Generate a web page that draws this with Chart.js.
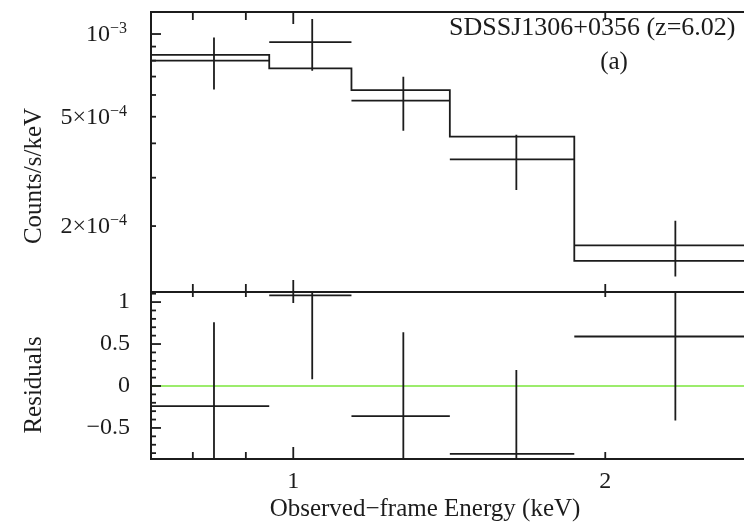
<!DOCTYPE html>
<html>
<head>
<meta charset="utf-8">
<script src="https://cdn.jsdelivr.net/npm/chart.js@4.4.1/dist/chart.umd.min.js"></script>
<style>
  html, body { margin: 0; padding: 0; background: #fff; }
  #wrap { position: relative; width: 744px; height: 526px; overflow: hidden; }
  canvas { position: absolute; left: 0; top: 0; }
</style>
</head>
<body>
<div id="wrap">
  <canvas id="spec" width="744" height="526"></canvas>
  <canvas id="resid" width="744" height="526"></canvas>
</div>
<script>
// energy bins (keV)
const binLo = [0.729, 0.948, 1.138, 1.416, 1.867];
const binHi = [0.948, 1.138, 1.416, 1.867, 2.807];
// counts/s/keV
const counts = [8.0e-4, 9.35e-4, 5.72e-4, 3.50e-4, 1.70e-4];
const countErr = [1.72e-4, 2.0e-4, 1.275e-4, 0.795e-4, 0.39e-4];
const model = [8.39e-4, 7.5e-4, 6.25e-4, 4.23e-4, 1.495e-4];
// residuals (sigma)
const resid = [-0.24, 1.08, -0.36, -0.81, 0.59];
const residErr = [1, 1, 1, 1, 1];

const xRange = [0.729, 2.722];
const specRange = [1.151e-4, 1.2026e-3];
const residRange = [-0.87, 1.12];

const xMajor = [1];
const xMinor = [0.8, 0.9, 2];
const xTickVals = [1, 2];
const xTickText = ["1", "2"];
const specMajor = [1e-3];
const specMinor = [9e-4, 8e-4, 7e-4, 6e-4, 5e-4, 4e-4, 3e-4, 2e-4];
const specLabelVals = [1e-3, 5e-4, 2e-4];
const specLabelBase = ["10", "5\u00d710", "2\u00d710"];
const specLabelExp = ["\u22123", "\u22124", "\u22124"];
const residMajor = [-0.5, 0, 0.5, 1];
const residMinor = [-0.8, -0.7, -0.6, -0.4, -0.3, -0.2, -0.1, 0.1, 0.2, 0.3, 0.4, 0.6, 0.7, 0.8, 0.9, 1.1];
const residTickVals = [-0.5, 0, 0.5, 1];
const residTickText = ["\u22120.5", "0", "0.5", "1"];

const serif = "'Liberation Serif', 'Times New Roman', serif";
const ink = "#1c1c1c";

// horizontal bin bar + vertical error bar for every bin, gaps between
function errorBarPoints(vals, errs) {
  const pts = [];
  vals.forEach((v, i) => {
    const mid = (binLo[i] + binHi[i]) / 2;
    pts.push({ x: binLo[i], y: v }, { x: binHi[i], y: v }, { x: binHi[i], y: null });
    pts.push({ x: mid, y: v - errs[i] }, { x: mid, y: v + errs[i] }, { x: mid, y: null });
  });
  return pts;
}

function drawFrame(chart, xTicks, yTicks) {
  const { ctx, chartArea: a, scales } = chart;
  ctx.save();
  ctx.strokeStyle = ink;
  ctx.lineWidth = 1.8;
  const tick = (vals, len, axis) => {
    vals.forEach(v => {
      if (axis === "x") {
        const px = scales.x.getPixelForValue(v);
        ctx.beginPath();
        ctx.moveTo(px, a.top); ctx.lineTo(px, a.top + len[0]);
        ctx.moveTo(px, a.bottom); ctx.lineTo(px, a.bottom - len[1]);
        ctx.stroke();
      } else {
        const py = scales.y.getPixelForValue(v);
        ctx.beginPath();
        ctx.moveTo(a.left, py); ctx.lineTo(a.left + len, py);
        ctx.stroke();
      }
    });
  };
  tick(xTicks.major, xTicks.majorLen, "x");
  tick(xTicks.minor, xTicks.minorLen, "x");
  tick(yTicks.major, yTicks.majorLen, "y");
  tick(yTicks.minor, yTicks.minorLen, "y");
  ctx.lineWidth = 2;
  ctx.strokeRect(a.left, a.top, a.right - a.left + 4, a.bottom - a.top);
  ctx.restore();
}

function rotatedText(ctx, text, x, y, size) {
  ctx.save();
  ctx.translate(x, y);
  ctx.rotate(-Math.PI / 2);
  ctx.font = `${size}px ${serif}`;
  ctx.fillStyle = ink;
  ctx.textAlign = "center";
  ctx.textBaseline = "middle";
  ctx.fillText(text, 0, 0);
  ctx.restore();
}

const specDecor = {
  id: "specDecor",
  afterDatasetsDraw(chart) {
    drawFrame(chart,
      { major: xMajor, minor: xMinor, majorLen: [12, 12], minorLen: [8, 8] },
      { major: specMajor, minor: specMinor, majorLen: 10, minorLen: 5 });
    const ctx = chart.ctx;
    const y = chart.scales.y;
    ctx.save();
    ctx.fillStyle = ink;
    ctx.textBaseline = "middle";
    ctx.textAlign = "left";
    const size = 24, expSize = 16;
    specLabelVals.forEach((v, i) => {
      const py = y.getPixelForValue(v);
      ctx.font = `${size}px ${serif}`;
      const bw = ctx.measureText(specLabelBase[i]).width;
      ctx.font = `${expSize}px ${serif}`;
      const ew = ctx.measureText(specLabelExp[i]).width;
      const right = 127;
      ctx.font = `${size}px ${serif}`;
      ctx.fillText(specLabelBase[i], right - ew - bw, py + 1);
      ctx.font = `${expSize}px ${serif}`;
      ctx.fillText(specLabelExp[i], right - ew, py - 5);
    });
    ctx.font = `26px ${serif}`;
    ctx.textAlign = "left";
    ctx.fillText("SDSSJ1306+0356 (z=6.02)", 449, 28);
    ctx.font = `25px ${serif}`;
    ctx.textAlign = "center";
    ctx.fillText("(a)", 614, 62);
    ctx.restore();
    rotatedText(ctx, "Counts/s/keV", 34, 176, 25);
  }
};

const residDecor = {
  id: "residDecor",
  afterDatasetsDraw(chart) {
    drawFrame(chart,
      { major: xMajor, minor: xMinor, majorLen: [11, 12], minorLen: [5, 7] },
      { major: residMajor, minor: residMinor, majorLen: 10, minorLen: 5 });
    const ctx = chart.ctx;
    rotatedText(ctx, "Residuals", 34, 385, 25);
    ctx.save();
    ctx.fillStyle = ink;
    ctx.font = `25px ${serif}`;
    ctx.textAlign = "center";
    ctx.textBaseline = "alphabetic";
    ctx.fillText("Observed\u2212frame Energy (keV)", 425, 516);
    ctx.restore();
  }
};

const fixWidth = s => { s.width = 151; };

new Chart(document.getElementById("spec"), {
  type: "line",
  data: {
    datasets: [
      {
        data: errorBarPoints(counts, countErr),
        borderColor: ink, borderWidth: 1.8, pointRadius: 0, spanGaps: false
      },
      {
        data: binLo.map((e, i) => ({ x: e, y: model[i] }))
          .concat([{ x: binHi[binHi.length - 1], y: model[model.length - 1] }]),
        borderColor: ink, borderWidth: 1.8, pointRadius: 0, stepped: true
      }
    ]
  },
  options: {
    responsive: false,
    animation: false,
    layout: { padding: { top: 12, bottom: 526 - 292, left: 0, right: 0 } },
    plugins: { legend: { display: false }, tooltip: { enabled: false } },
    scales: {
      x: { type: "logarithmic", min: xRange[0], max: xRange[1], bounds: "data", display: false },
      y: {
        type: "logarithmic", min: specRange[0], max: specRange[1], bounds: "data",
        grid: { display: false, drawTicks: false }, border: { display: false },
        ticks: { display: false },
        afterFit: fixWidth
      }
    }
  },
  plugins: [specDecor]
});

new Chart(document.getElementById("resid"), {
  type: "line",
  data: {
    datasets: [
      {
        data: errorBarPoints(resid, residErr),
        borderColor: ink, borderWidth: 1.8, pointRadius: 0, spanGaps: false
      },
      {
        data: [{ x: xRange[0], y: 0 }, { x: xRange[1], y: 0 }],
        borderColor: "#9cec6c", borderWidth: 2.2, pointRadius: 0
      }
    ]
  },
  options: {
    responsive: false,
    animation: false,
    layout: { padding: { top: 292, bottom: 0, left: 0, right: 0 } },
    plugins: { legend: { display: false }, tooltip: { enabled: false } },
    scales: {
      x: {
        type: "logarithmic", min: xRange[0], max: xRange[1], bounds: "data",
        grid: { display: false, drawTicks: false }, border: { display: false },
        afterBuildTicks: s => { s.ticks = xTickVals.map(v => ({ value: v })); },
        ticks: {
          autoSkip: false, maxRotation: 0, padding: 8, color: ink,
          font: { family: serif, size: 24 },
          callback: (v, i) => xTickText[i]
        },
        afterFit: s => { s.height = 526 - 459; }
      },
      y: {
        type: "linear", min: residRange[0], max: residRange[1], bounds: "data",
        grid: { display: false, drawTicks: false }, border: { display: false },
        afterBuildTicks: s => { s.ticks = residTickVals.map(v => ({ value: v })); },
        ticks: {
          padding: 21, color: ink,
          font: { family: serif, size: 24 },
          callback: (v, i) => residTickText[i]
        },
        afterFit: fixWidth
      }
    }
  },
  plugins: [residDecor]
});
</script>
</body>
</html>
